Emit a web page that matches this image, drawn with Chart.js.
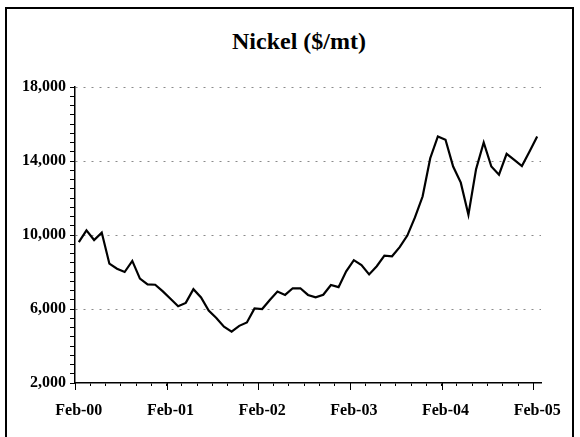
<!DOCTYPE html>
<html>
<head>
<meta charset="utf-8">
<script src="https://cdn.jsdelivr.net/npm/chart.js@4.4.1/dist/chart.umd.min.js"></script>
<style>
  html, body { margin: 0; padding: 0; background: #fff; }
  #wrap { position: relative; width: 580px; height: 437px; overflow: hidden; }
  #frame { position: absolute; left: 5px; top: 7px; width: 569px; height: 460px; border: 2px solid #000; box-sizing: border-box; }
  #title { position: absolute; left: 179px; width: 240px; top: 26px; text-align: center;
           font: bold 24px "Liberation Serif", "Times New Roman", serif; line-height: 30px; }
  canvas { position: absolute; left: 0; top: 0; }
</style>
</head>
<body>
<div id="wrap">
  <div id="frame"></div>
  <div id="title">Nickel ($/mt)</div>
  <canvas id="nickelChart" width="580" height="437"></canvas>
</div>
<script>
// monthly, Feb-00 .. Feb-05
const months = [
  "Feb-00","Mar-00","Apr-00","May-00","Jun-00","Jul-00","Aug-00","Sep-00","Oct-00","Nov-00","Dec-00","Jan-01",
  "Feb-01","Mar-01","Apr-01","May-01","Jun-01","Jul-01","Aug-01","Sep-01","Oct-01","Nov-01","Dec-01","Jan-02",
  "Feb-02","Mar-02","Apr-02","May-02","Jun-02","Jul-02","Aug-02","Sep-02","Oct-02","Nov-02","Dec-02","Jan-03",
  "Feb-03","Mar-03","Apr-03","May-03","Jun-03","Jul-03","Aug-03","Sep-03","Oct-03","Nov-03","Dec-03","Jan-04",
  "Feb-04","Mar-04","Apr-04","May-04","Jun-04","Jul-04","Aug-04","Sep-04","Oct-04","Nov-04","Dec-04","Jan-05",
  "Feb-05"
];
const nickel = [
  9620, 10250, 9730, 10130, 8450, 8180, 8000, 8600, 7640, 7330, 7310, 6950,
  6550, 6150, 6330, 7070, 6620, 5910, 5510, 5040, 4780, 5090, 5270, 6030,
  6000, 6490, 6940, 6760, 7120, 7120, 6760, 6630, 6770, 7300, 7180, 8040,
  8640, 8370, 7870, 8310, 8880, 8850, 9340, 9970, 10950, 12080, 14150, 15330,
  15150, 13700, 12830, 11100, 13560, 15000, 13700, 13260, 14390, 14060, 13730, 14510,
  15330
];
const yTicks = [2000, 6000, 10000, 14000, 18000];

const tickFont = { family: "'Liberation Serif', 'Times New Roman', serif", size: 16, weight: 'bold' };

// longer tick marks at each year boundary
const yearTicks = {
  id: 'yearTicks',
  afterDraw(chart) {
    const xs = chart.scales.x;
    const half = (xs.getPixelForValue(1) - xs.getPixelForValue(0)) / 2;
    const ctx = chart.ctx;
    ctx.save();
    ctx.strokeStyle = '#000';
    ctx.lineWidth = 1;
    ctx.beginPath();
    for (let i = 0; i <= 60; i += 12) {
      const px = Math.round(xs.getPixelForValue(i) - half) + 0.5;
      ctx.moveTo(px, xs.top);
      ctx.lineTo(px, xs.top + 7);
    }
    ctx.stroke();
    ctx.restore();
  }
};

new Chart(document.getElementById('nickelChart'), {
  type: 'line',
  data: {
    labels: months,
    datasets: [{
      data: nickel,
      borderColor: '#000',
      borderWidth: 2.2,
      pointRadius: 0,
      tension: 0,
      fill: false
    }]
  },
  options: {
    responsive: false,
    animation: false,
    devicePixelRatio: 1,
    layout: { padding: { left: 0, right: 39, top: 87, bottom: 0 } },
    plugins: { legend: { display: false }, title: { display: false }, tooltip: { enabled: false } },
    scales: {
      x: {
        type: 'category',
        offset: true,
        afterFit: (s) => { s.height = 54; },
        grid: {
          offset: true,
          drawOnChartArea: false,
          tickLength: 3,
          tickColor: (c) => (c.index % 2 === 0 ? '#000' : 'rgba(0,0,0,0)')
        },
        border: { color: '#000', width: 1.5 },
        ticks: {
          autoSkip: false,
          maxRotation: 0,
          padding: 15,
          color: '#000',
          font: tickFont,
          callback: (v, i) => (i % 12 === 0 ? months[i] : '')
        }
      },
      y: {
        min: 2000,
        max: 18000,
        afterFit: (s) => { s.width = 75; },
        grid: {
          color: (c) => (c.tick && c.tick.value > 2000 && yTicks.includes(c.tick.value) ? '#8a8a8a' : 'rgba(0,0,0,0)'),
          lineWidth: 1,
          tickLength: 5,
          tickColor: '#000'
        },
        border: { color: '#000', width: 1.5, dash: [2, 6] },
        ticks: {
          stepSize: 500,
          autoSkip: false,
          padding: 4,
          color: '#000',
          font: tickFont,
          callback: (v) => (yTicks.includes(v) ? v.toLocaleString('en-US') : '')
        }
      }
    }
  },
  plugins: [yearTicks]
});
</script>
</body>
</html>
